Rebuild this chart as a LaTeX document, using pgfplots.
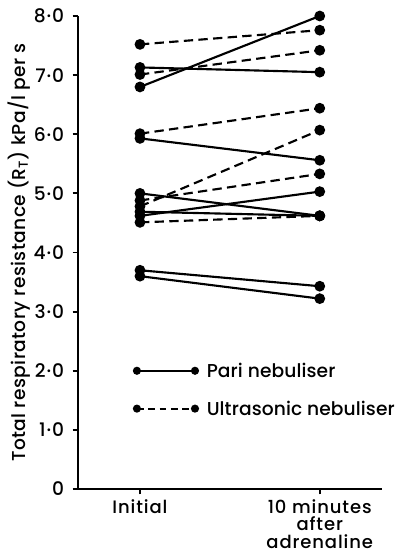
\documentclass[border=0pt]{standalone}
\usepackage{fontspec}
\setmainfont{Poppins}[UprightFont={* Medium}]
\newfontfamily\ticksfont{Poppins}[UprightFont={* Medium}, LetterSpace=5]
\newfontfamily\ylabfont{Poppins}[UprightFont={* Medium}, LetterSpace=2]
\newfontfamily\legfont{Poppins}[UprightFont={* Medium}, LetterSpace=0.5]
\usepackage{pgfplots}
\pgfplotsset{compat=1.18}
\begin{document}
\fontsize{14}{16}\selectfont
\begin{tikzpicture}
\begin{axis}[
  name=ax,
  scale only axis,
  width=228pt, height=355pt,
  xmin=-0.345, xmax=1.345,
  ymin=0, ymax=8,
  axis x line*=bottom, axis y line*=left,
  axis line style={line width=1.9pt},
  tick style={line width=1.4pt, black},
  tick align=outside,
  major tick length=4pt,
  xtick={0,1},
  xticklabels={Initial,{10 minutes\\after\\adrenaline}},
  xticklabel style={align=center, font=\ticksfont\fontsize{13.5}{13}\selectfont, yshift=1pt},
  ytick={0,1,2,3,4,5,6,7,8},
  yticklabels={0,1·0,2·0,3·0,4·0,5·0,6·0,7·0,8·0},
  yticklabel style={font=\ticksfont\fontsize{14}{16}\selectfont, xshift=-1.5pt},
  ylabel={Total respiratory resistance (R\textsubscript{T}) kPa/l per s},
  ylabel style={at={(axis description cs:-0.195,0.5)}, anchor=center, font=\ylabfont\fontsize{14}{16}\selectfont},
  clip=false,
]
\pgfplotsset{pari/.style={black, line width=1.6pt, solid, mark=*, mark size=3.2pt, mark options={solid}},
             ultra/.style={black, line width=1.6pt, dash pattern=on 7pt off 4pt, mark=*, mark size=3.2pt, mark options={solid}}}
% Pari nebuliser (solid)
\addplot[pari] coordinates {(0,6.80) (1,8.00)};
\addplot[pari] coordinates {(0,7.13) (1,7.05)};
\addplot[pari] coordinates {(0,5.93) (1,5.56)};
\addplot[pari] coordinates {(0,5.00) (1,4.62)};
\addplot[pari] coordinates {(0,4.62) (1,5.03)};
\addplot[pari] coordinates {(0,4.69) (1,4.62)};
\addplot[pari] coordinates {(0,3.70) (1,3.43)};
\addplot[pari] coordinates {(0,3.60) (1,3.22)};
% Ultrasonic nebuliser (dashed)
\addplot[ultra] coordinates {(0,7.52) (1,7.76)};
\addplot[ultra] coordinates {(0,7.01) (1,7.42)};
\addplot[ultra] coordinates {(0,6.01) (1,6.44)};
\addplot[ultra] coordinates {(0,4.78) (1,6.07)};
\addplot[ultra] coordinates {(0,4.88) (1,5.33)};
\addplot[ultra] coordinates {(0,4.51) (1,4.62)};
% legend
\addplot[black, line width=1.6pt, solid, mark=*, mark size=2.2pt] coordinates {(-0.017,2.0) (0.306,2.0)};
\addplot[black, line width=1.6pt, dash pattern=on 5pt off 3.5pt, mark=*, mark size=2.2pt, mark options={solid}] coordinates {(-0.017,1.36) (0.306,1.36)};
\node[anchor=west, inner sep=0pt, font=\legfont] at (axis cs:0.37,2.0) {Pari nebuliser};
\node[anchor=west, inner sep=0pt, font=\legfont] at (axis cs:0.37,1.36) {Ultrasonic nebuliser};
\coordinate (bl) at (rel axis cs:0,0);
\coordinate (tr) at (rel axis cs:1,1);
\end{axis}
\pgfresetboundingbox
\useasboundingbox ([xshift=-58.5pt,yshift=-49.5pt]bl) rectangle ([xshift=13.5pt,yshift=12pt]tr);
\end{tikzpicture}
\end{document}
